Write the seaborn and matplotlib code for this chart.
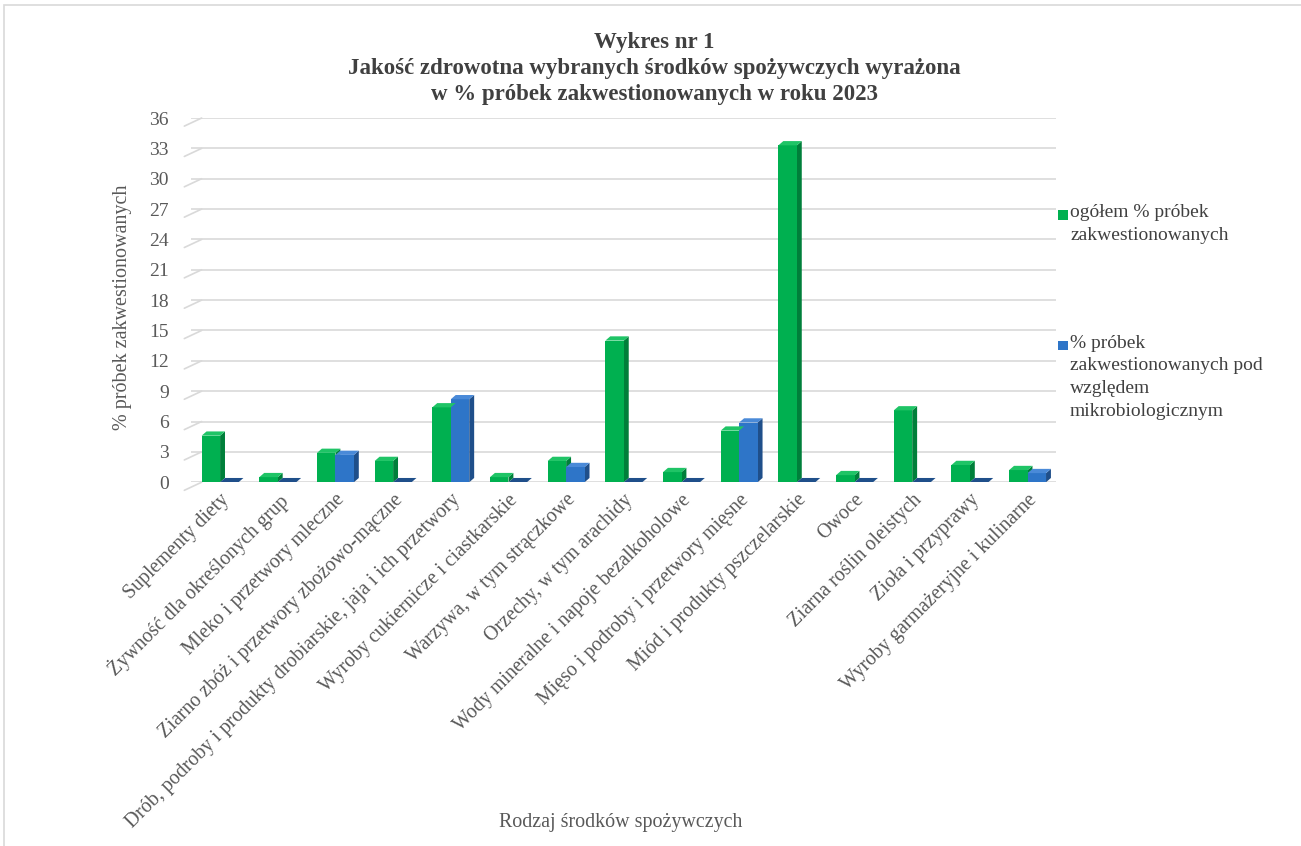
import numpy as np
import pandas as pd
import matplotlib
matplotlib.use('Agg')
import matplotlib.pyplot as plt
import seaborn as sns
from matplotlib.patches import Polygon, Rectangle
from matplotlib.transforms import blended_transform_factory

categories = [
    'Suplementy diety',
    'Żywność dla określonych grup',
    'Mleko i przetwory mleczne',
    'Ziarno zbóż i przetwory zbożowo-mączne',
    'Drób, podroby i produkty drobiarskie, jaja i ich przetwory',
    'Wyroby cukiernicze i ciastkarskie',
    'Warzywa, w tym strączkowe',
    'Orzechy, w tym arachidy',
    'Wody mineralne i napoje bezalkoholowe',
    'Mięso i podroby i przetwory mięsne',
    'Miód i produkty pszczelarskie',
    'Owoce',
    'Ziarna roślin oleistych',
    'Zioła i przyprawy',
    'Wyroby garmażeryjne i kulinarne',
]
total_pct = [4.6, 0.5, 2.9, 2.1, 7.4, 0.5, 2.1, 14.0, 1.0, 5.1, 33.3, 0.7, 7.1, 1.7, 1.2]
micro_pct = [0.0, 0.0, 2.7, 0.0, 8.2, 0.0, 1.5, 0.0, 0.0, 5.9, 0.0, 0.0, 0.0, 0.0, 0.9]
series_names = ['ogółem % próbek zakwestionowanych',
                '% próbek zakwestionowanych pod względem mikrobiologicznym']
legend_labels = ['ogółem % próbek\nzakwestionowanych',
                 '% próbek\nzakwestionowanych pod\nwzględem\nmikrobiologicznym']
y_ticks = list(range(0, 37, 3))

df = pd.DataFrame({
    'kategoria': categories * 2,
    'wartosc': total_pct + micro_pct,
    'seria': [series_names[0]] * len(categories) + [series_names[1]] * len(categories),
})

front = {series_names[0]: '#00B050', series_names[1]: '#2E75C8'}
side = {series_names[0]: '#007F3A', series_names[1]: '#1F4F8A'}
top = {series_names[0]: '#1FC466', series_names[1]: '#4A8AD8'}

sns.set_theme(style='white')
plt.rcParams['font.family'] = ['Liberation Serif', 'DejaVu Serif']

fig = plt.figure(figsize=(13.01, 8.46), dpi=100)
ax = fig.add_axes([0.147, 0.430, 0.665, 0.4305])

sns.barplot(data=df, x='kategoria', y='wartosc', hue='seria', palette=front,
            width=0.64, gap=0, dodge=True, saturation=1, ax=ax, legend=False,
            zorder=3, linewidth=0)

# pseudo-3D faces from the drawn bars
dx, dy = 0.085, 0.42
n = len(categories)
for k, p in enumerate(ax.patches):
    s = series_names[k // n]
    x0 = p.get_x()
    w = p.get_width()
    h = p.get_height()
    ax.add_patch(Polygon([(x0 + w, 0), (x0 + w + dx, dy), (x0 + w + dx, h + dy), (x0 + w, h)],
                         closed=True, facecolor=side[s], edgecolor='none', zorder=2.9))
    ax.add_patch(Polygon([(x0, h), (x0 + w, h), (x0 + w + dx, h + dy), (x0 + dx, h + dy)],
                         closed=True, facecolor=top[s] if h > 0 else side[s],
                         edgecolor='none', zorder=3.1))

ax.set_ylim(0, 36)
ax.set_xlim(-0.5, n - 0.5)
ax.set_yticks(y_ticks)
ax.yaxis.grid(True, color='#D9D9D9', linewidth=1.2, zorder=0)
ax.set_axisbelow(True)
for sp in ax.spines.values():
    sp.set_visible(False)

# slanted wall edges on the left of each gridline
tr = blended_transform_factory(ax.transAxes, ax.transData)
for yv in y_ticks:
    ax.plot([-0.008, 0.012], [yv - 0.8, yv], transform=tr, color='#D9D9D9',
            linewidth=1.2, clip_on=False)

ax.tick_params(axis='y', length=0, labelsize=14, labelcolor='#595959', pad=16)
ax.tick_params(axis='x', length=0, labelsize=14.3, labelcolor='#595959', pad=6)
ax.set_xticks(range(n))
ax.set_xticklabels(categories, rotation=45, ha='right', rotation_mode='anchor')

ax.set_ylabel('% próbek zakwestionowanych', fontsize=14.5, color='#595959')
ax.yaxis.set_label_coords(-0.069, 0.48)
ax.set_xlabel('')
fig.text(0.477, 0.028, 'Rodzaj środków spożywczych', ha='center', va='center',
         fontsize=14.4, color='#595959')

fig.text(0.503, 0.962, 'Wykres nr 1\nJakość zdrowotna wybranych środków spożywczych wyrażona\n'
         'w % próbek zakwestionowanych w roku 2023',
         ha='center', va='top', fontsize=16.5, fontweight='bold', color='#404040',
         linespacing=1.3)

# legend, markers aligned with first text line as in the original
leg_y = [0.746, 0.592]
for s, lab, yy in zip(series_names, legend_labels, leg_y):
    fig.add_artist(Rectangle((0.8135, yy - 0.0055), 0.0072, 0.0110, transform=fig.transFigure,
                             facecolor=front[s], edgecolor='none'))
    fig.text(0.8225, yy + 0.0125, lab, ha='left', va='top', fontsize=14,
             color='#404040', linespacing=1.45)

fig.add_artist(Rectangle((0.003, -0.01), 1.2, 1.004, transform=fig.transFigure,
                         fill=False, edgecolor='#D9D9D9', linewidth=1.2))

fig.savefig('out.png', dpi=100)
